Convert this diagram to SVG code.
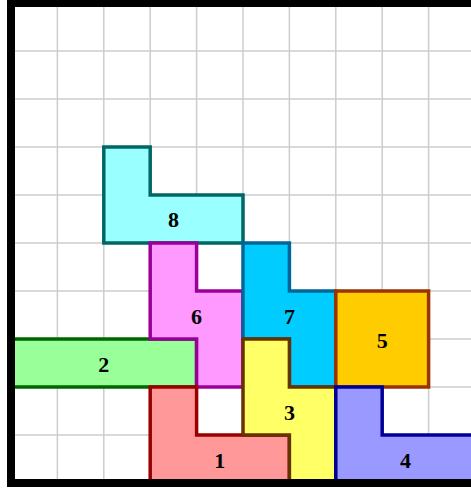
<svg xmlns="http://www.w3.org/2000/svg" width="471" height="488" viewBox="0 0 471 488">
<style>
.grid line{stroke:#cccccc;stroke-width:1.5}
.pc polygon{stroke-width:3.5;stroke-linejoin:miter}
.pc text{font-family:"Liberation Serif","DejaVu Serif",serif;font-weight:bold;font-size:22px;text-anchor:middle;fill:#000}
</style>
<rect x="0" y="0" width="471" height="488" fill="#ffffff"/>
<g class="grid">
<line x1="57.4" y1="3" x2="57.4" y2="483"/>
<line x1="103.8" y1="3" x2="103.8" y2="483"/>
<line x1="150.2" y1="3" x2="150.2" y2="483"/>
<line x1="196.6" y1="3" x2="196.6" y2="483"/>
<line x1="243" y1="3" x2="243" y2="483"/>
<line x1="289.4" y1="3" x2="289.4" y2="483"/>
<line x1="335.8" y1="3" x2="335.8" y2="483"/>
<line x1="382.2" y1="3" x2="382.2" y2="483"/>
<line x1="428.6" y1="3" x2="428.6" y2="483"/>
<line x1="11" y1="51" x2="475" y2="51"/>
<line x1="11" y1="99" x2="475" y2="99"/>
<line x1="11" y1="147" x2="475" y2="147"/>
<line x1="11" y1="195" x2="475" y2="195"/>
<line x1="11" y1="243" x2="475" y2="243"/>
<line x1="11" y1="291" x2="475" y2="291"/>
<line x1="11" y1="339" x2="475" y2="339"/>
<line x1="11" y1="387" x2="475" y2="387"/>
<line x1="11" y1="435" x2="475" y2="435"/>
</g>
<g id="piece8" class="pc">
<polygon points="103.8,147 150.2,147 150.2,195 243,195 243,243 103.8,243" fill="#99ffff" stroke="#006666"/>
<text x="173.4" y="227">8</text>
</g>
<g id="piece2" class="pc">
<polygon points="11,339 196.6,339 196.6,387 11,387" fill="#99ff99" stroke="#006600"/>
<text x="103.8" y="372">2</text>
</g>
<g id="piece6" class="pc">
<polygon points="150.2,243 196.6,243 196.6,291 243,291 243,387 196.6,387 196.6,339 150.2,339" fill="#ff99ff" stroke="#990099"/>
<text x="196.6" y="324">6</text>
</g>
<g id="piece7" class="pc">
<polygon points="243,243 289.4,243 289.4,291 335.8,291 335.8,387 289.4,387 289.4,339 243,339" fill="#00ccff" stroke="#006699"/>
<text x="289.4" y="324">7</text>
</g>
<g id="piece5" class="pc">
<polygon points="335.8,291 428.6,291 428.6,387 335.8,387" fill="#ffcc00" stroke="#993300"/>
<text x="382.2" y="348">5</text>
</g>
<g id="piece1" class="pc">
<polygon points="150.2,387 196.6,387 196.6,435 289.4,435 289.4,483 150.2,483" fill="#ff9999" stroke="#990000"/>
<text x="219.8" y="468">1</text>
</g>
<g id="piece3" class="pc">
<polygon points="243,339 289.4,339 289.4,387 335.8,387 335.8,483 289.4,483 289.4,435 243,435" fill="#ffff66" stroke="#663300"/>
<text x="289.4" y="420">3</text>
</g>
<g id="piece4" class="pc">
<polygon points="335.8,387 382.2,387 382.2,435 475,435 475,483 335.8,483" fill="#9999ff" stroke="#000099"/>
<text x="405.4" y="468">4</text>
</g>
<rect id="frame" x="11" y="3" width="464" height="480" fill="none" stroke="#000000" stroke-width="8"/>
</svg>
